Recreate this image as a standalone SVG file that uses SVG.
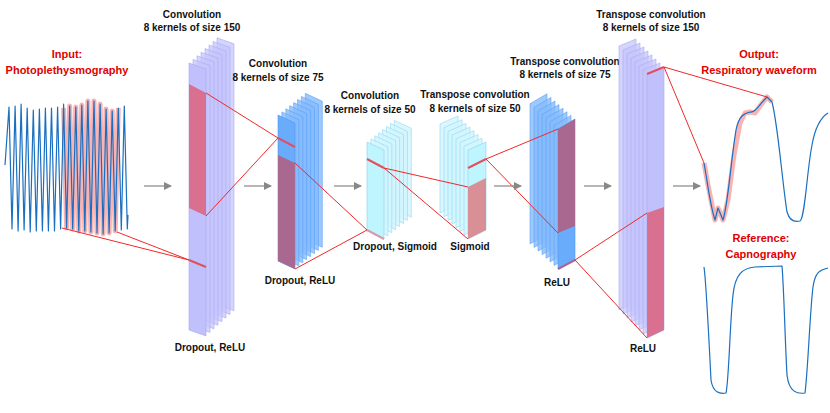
<svg xmlns="http://www.w3.org/2000/svg" width="830" height="413" viewBox="0 0 830 413">
<style>
text{font-family:"Liberation Sans",Arial,sans-serif;font-weight:bold;font-size:10px;fill:#111;text-anchor:middle}
.r{fill:#e00000;font-size:11px}
.lav{fill:#c6c6fc;fill-opacity:.75;stroke:#aaaaf2;stroke-width:.6}
.lavf{fill:#c0c0fc;stroke:#a8a8f0;stroke-width:.6}
.blu{fill:#86bcfc;fill-opacity:.8;stroke:#5aa0f5;stroke-width:.6}
.bluf{fill:#6aacfc;stroke:#4d96ee;stroke-width:.6}
.cy{fill:#d2f5fe;fill-opacity:.8;stroke:#8ed6f3;stroke-width:.6}
.cyf{fill:#bff5fe;stroke:#86d2f0;stroke-width:.6}
.con{stroke:#ee2a2a;stroke-width:1;fill:none}
.mk{stroke:#e05060;stroke-width:2;fill:none}
.arr{stroke:#888;stroke-width:1.2;fill:none}
.wave{fill:none;stroke:#1a6fc0;stroke-width:1.2;stroke-linejoin:round}
.hl{fill:none;stroke:#f6a0a0;stroke-width:5;stroke-opacity:.8;stroke-linejoin:round}
</style>
<defs>
<polygon id="s1" points="0,0 17,6 17,273 0,267"/>
<polygon id="s2" points="0,0 17,8 17,154 0,146"/>
<polygon id="s3" points="0,0 17,8 17,97 0,88"/>
<polygon id="s4" points="0,0 18,-8 18,80 0,89"/>
<polygon id="s5" points="0,0 17,-10 17,131 0,140"/>
<polygon id="s6" points="0,0 17,-7 17,256 0,264"/>
<marker id="ah" markerWidth="8" markerHeight="8" refX="7" refY="4" orient="auto" markerUnits="userSpaceOnUse"><path d="M0,0 L8,4 L0,8 Z" fill="#888"/></marker>
</defs>

<g id="input">
<polyline class="hl" points="63.6,108 66.6,228 69.7,106 72.7,229 75.8,107 78.8,231 81.8,105 84.8,231 87.9,101 90.9,232 94,101 97,233 100.1,104 103.1,234 106.1,109 109.1,233 112.2,111 115.2,231 118.3,108"/>
<polyline class="wave" points="5,165 9,107 12,229 15.1,106 18.1,231 21.1,104 24.1,230 27.2,108 30.2,232 33.3,110 36.3,231 39.4,109 42.4,231 45.4,108 48.4,231 51.5,108 54.5,231 57.6,107 60.6,229 63.6,104 66.6,228 69.7,106 72.7,229 75.8,107 78.8,231 81.8,105 84.8,231 87.9,101 90.9,232 94,101 97,233 100.1,104 103.1,234 106.1,109 109.1,233 112.2,111 115.2,231 118.3,108 121.3,230 124.3,106 127.3,229 128,215"/>
<text class="r" x="67" y="58">Input:</text>
<text class="r" x="67" y="74">Photoplethysmography</text>
</g>

<g id="conv1">
<use href="#s1" class="lav" x="217" y="37.8"/><use href="#s1" class="lav" x="213" y="41.4"/><use href="#s1" class="lav" x="209" y="45"/><use href="#s1" class="lav" x="205" y="48.6"/><use href="#s1" class="lav" x="201" y="52.2"/><use href="#s1" class="lav" x="197" y="55.8"/><use href="#s1" class="lav" x="193" y="59.4"/>
<use href="#s1" class="lavf" x="189" y="63"/>
<polygon points="189,84 206,93 206,216 189,208" fill="#d97090"/>
<line class="mk" x1="189" y1="260" x2="206" y2="267"/>
<text x="192" y="18">Convolution</text><text x="192" y="31">8 kernels of size 150</text>
<text x="210" y="351">Dropout, ReLU</text>
</g>

<g id="conv2">
<use href="#s2" class="blu" x="305.3" y="93.3"/><use href="#s2" class="blu" x="301.4" y="96.4"/><use href="#s2" class="blu" x="297.5" y="99.5"/><use href="#s2" class="blu" x="293.6" y="102.6"/><use href="#s2" class="blu" x="289.7" y="105.7"/><use href="#s2" class="blu" x="285.8" y="108.8"/><use href="#s2" class="blu" x="281.9" y="111.9"/>
<use href="#s2" class="bluf" x="278" y="115"/>
<polygon points="278,155 295,163 295,269 278,261" fill="#a86890"/>
<line class="mk" x1="278" y1="138" x2="295" y2="147"/>
<text x="278" y="67">Convolution</text><text x="278" y="81">8 kernels of size 75</text>
<text x="300" y="284">Dropout, ReLU</text>
</g>

<g id="conv3">
<use href="#s3" class="cy" x="394.3" y="120.3"/><use href="#s3" class="cy" x="390.4" y="123.4"/><use href="#s3" class="cy" x="386.5" y="126.5"/><use href="#s3" class="cy" x="382.6" y="129.6"/><use href="#s3" class="cy" x="378.7" y="132.7"/><use href="#s3" class="cy" x="374.8" y="135.8"/><use href="#s3" class="cy" x="370.9" y="138.9"/>
<use href="#s3" class="cyf" x="367" y="142"/>
<line class="mk" x1="367" y1="159" x2="384" y2="168"/>
<line x1="367" y1="230" x2="384" y2="239" stroke="#d89aa8" stroke-width="2"/>
<text x="370" y="99">Convolution</text><text x="370" y="113">8 kernels of size 50</text>
<text x="395" y="250">Dropout, Sigmoid</text>
</g>

<g id="tconv1">
<use href="#s4" class="cy" x="440" y="124"/><use href="#s4" class="cy" x="444" y="127.7"/><use href="#s4" class="cy" x="448" y="131.4"/><use href="#s4" class="cy" x="452" y="135.1"/><use href="#s4" class="cy" x="456" y="138.8"/><use href="#s4" class="cy" x="460" y="142.5"/><use href="#s4" class="cy" x="464" y="146.2"/>
<use href="#s4" class="cyf" x="468" y="150"/>
<polygon points="468,187 486,178 486,230 468,239" fill="#d88f96"/>
<line class="mk" x1="468" y1="168" x2="486" y2="159"/>
<text x="475" y="98">Transpose convolution</text><text x="475" y="112">8 kernels of size 50</text>
<text x="470" y="250">Sigmoid</text>
</g>

<g id="tconv2">
<use href="#s5" class="blu" x="530" y="103.8"/><use href="#s5" class="blu" x="534" y="107.4"/><use href="#s5" class="blu" x="538" y="111"/><use href="#s5" class="blu" x="542" y="114.6"/><use href="#s5" class="blu" x="546" y="118.2"/><use href="#s5" class="blu" x="550" y="121.8"/><use href="#s5" class="blu" x="554" y="125.4"/>
<use href="#s5" class="bluf" x="558" y="129"/>
<polygon points="558,129 575,119 575,226 558,233" fill="#a86890"/>
<line x1="558" y1="269" x2="575" y2="260" stroke="#a86890" stroke-width="2"/>
<text x="565" y="65">Transpose convolution</text><text x="565" y="78">8 kernels of size 75</text>
<text x="557" y="286">ReLU</text>
</g>

<g id="tconv3">
<use href="#s6" class="lav" x="619" y="46"/><use href="#s6" class="lav" x="623" y="50"/><use href="#s6" class="lav" x="627" y="54"/><use href="#s6" class="lav" x="631" y="58"/><use href="#s6" class="lav" x="635" y="62"/><use href="#s6" class="lav" x="639" y="66"/><use href="#s6" class="lav" x="643" y="70"/>
<use href="#s6" class="lavf" x="647" y="74"/>
<polygon points="647,213 664,207 664,330 647,338" fill="#d97090"/>
<line class="mk" x1="647" y1="74" x2="664" y2="67"/>
<text x="651" y="18">Transpose convolution</text><text x="651" y="31">8 kernels of size 150</text>
<text x="643" y="352">ReLU</text>
</g>

<g id="output">
<polyline class="hl" points="704,163 708,185 712,205 715,220 718,208 723,220 728,200 734,155 740,123 745,113 750,112 755,113 760,106 767,97 772,102"/>
<path class="wave" d="M704,163 C708,185 710,205 715,220 L718,208 L723,220 C728,205 731,160 736,130 C739,115 745,113 750,112 C755,113 758,106 767,97 L772,102 C778,125 782,180 787,212 C790,222 796,222 800,221 C805,218 807,170 812,145 C815,128 820,118 828,113"/>
<text class="r" x="759" y="58">Output:</text><text class="r" x="759" y="74">Respiratory waveform</text>
</g>

<g id="reference">
<path class="wave" d="M704,267 C706,280 709,340 711,380 C713,393 720,394 726,393 C729,380 730,320 733,295 C735,275 742,268 755,267 L782,266 C784,290 785,340 787,375 C789,393 798,394 805,393 C808,370 810,310 813,287 C815,272 820,270 828,268"/>
<text class="r" x="761" y="242">Reference:</text><text class="r" x="761" y="258">Capnography</text>
</g>

<g id="connectors">
<line class="con" x1="62" y1="228" x2="189" y2="260"/>
<line class="con" x1="117" y1="232" x2="189" y2="260"/>
<line class="con" x1="206" y1="93" x2="278" y2="138"/>
<line class="con" x1="206" y1="216" x2="278" y2="138"/>
<line class="con" x1="295" y1="163" x2="367" y2="230"/>
<line class="con" x1="295" y1="269" x2="367" y2="230"/>
<line class="con" x1="384" y1="168" x2="468" y2="187"/>
<line class="con" x1="384" y1="168" x2="468" y2="239"/>
<line class="con" x1="486" y1="159" x2="558" y2="129"/>
<line class="con" x1="486" y1="159" x2="558" y2="233"/>
<line class="con" x1="575" y1="260" x2="647" y2="213"/>
<line class="con" x1="575" y1="260" x2="647" y2="338"/>
<line class="con" x1="664" y1="67" x2="704" y2="163"/>
<line class="con" x1="664" y1="67" x2="767" y2="97"/>
<line class="arr" x1="144" y1="186" x2="171" y2="186" marker-end="url(#ah)"/>
<line class="arr" x1="244" y1="186" x2="271" y2="186" marker-end="url(#ah)"/>
<line class="arr" x1="334" y1="186" x2="361" y2="186" marker-end="url(#ah)"/>
<line class="arr" x1="494" y1="186" x2="521" y2="186" marker-end="url(#ah)"/>
<line class="arr" x1="584" y1="186" x2="611" y2="186" marker-end="url(#ah)"/>
<line class="arr" x1="673" y1="186" x2="700" y2="186" marker-end="url(#ah)"/>
</g>
</svg>
